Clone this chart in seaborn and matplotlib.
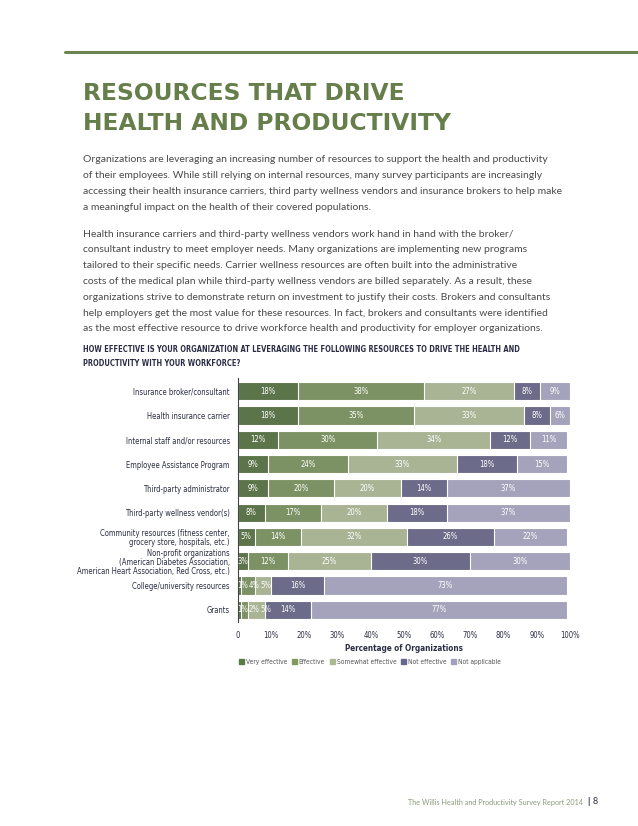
import matplotlib
matplotlib.use("Agg")
import matplotlib.pyplot as plt
import matplotlib.patches as mpatches
from matplotlib import font_manager as fm
import seaborn as sns
import pandas as pd

# --- data ------------------------------------------------------------------
resources = [
    "Insurance broker/consultant",
    "Health insurance carrier",
    "Internal staff and/or resources",
    "Employee Assistance Program",
    "Third-party administrator",
    "Third-party wellness vendor(s)",
    "Community resources (fitness center,\ngrocery store, hospitals, etc.)",
    "Non-profit organizations\n(American Diabetes Association,\nAmerican Heart Association, Red Cross, etc.)",
    "College/university resources",
    "Grants",
]
very_effective = [18, 18, 12, 9, 9, 8, 5, 3, 1, 1]
effective = [38, 35, 30, 24, 20, 17, 14, 12, 4, 2]
somewhat_effective = [27, 33, 34, 33, 20, 20, 32, 25, 5, 5]
not_effective = [8, 8, 12, 18, 14, 18, 26, 30, 16, 14]
not_applicable = [9, 6, 11, 15, 37, 37, 22, 30, 73, 77]

levels = ["Very effective", "Effective", "Somewhat effective",
          "Not effective", "Not applicable"]
colors = ["#5b7b43", "#7e9a5c", "#aab990", "#67678f", "#a19fc0"]
xticks = [0, 10, 20, 30, 40, 50, 60, 70, 80, 90, 100]
xticklabels = ["0"] + [f"{t}%" for t in xticks[1:]]

df = pd.DataFrame({"resource": resources,
                   levels[0]: very_effective,
                   levels[1]: effective,
                   levels[2]: somewhat_effective,
                   levels[3]: not_effective,
                   levels[4]: not_applicable})
cum = df[levels].cumsum(axis=1)

sns.set_theme(style="white")
plt.rcParams["font.family"] = ["Lato", "DejaVu Sans"]

# pick the narrowest font we have for the chart labels
installed = {f.name for f in fm.fontManager.ttflist}
dv_cond = [f for f in fm.fontManager.ttflist
           if f.name == "DejaVu Sans" and "condensed" in str(f.stretch)]
if "Liberation Sans Narrow" in installed:
    narrow = dict(family="Liberation Sans Narrow")
    k = 1.0
elif dv_cond:
    narrow = dict(family="DejaVu Sans", stretch="condensed")
    k = 0.92
else:
    narrow = dict(family="Roboto")
    k = 0.86

navy = "#2b2d45"
green_title = "#667e4a"
body = "#4a4a4a"

fig = plt.figure(figsize=(6.38, 8.26), dpi=100)

# header rule + title + body text
fig.add_artist(plt.Line2D([65 / 638, 1.0], [1 - 52 / 826] * 2,
                          color="#6d8450", lw=2.2))
for y, line in [(94, "RESOURCES THAT DRIVE"), (123, "HEALTH AND PRODUCTIVITY")]:
    fig.text(83 / 638, 1 - y / 826, line, color=green_title, fontsize=16.8,
             fontweight="bold", va="center", family="DejaVu Sans")

para1 = [
    "Organizations are leveraging an increasing number of resources to support the health and productivity",
    "of their employees. While still relying on internal resources, many survey participants are increasingly",
    "accessing their health insurance carriers, third party wellness vendors and insurance brokers to help make",
    "a meaningful impact on the health of their covered populations.",
]
para2 = [
    "Health insurance carriers and third-party wellness vendors work hand in hand with the broker/",
    "consultant industry to meet employer needs. Many organizations are implementing new programs",
    "tailored to their specific needs. Carrier wellness resources are often built into the administrative",
    "costs of the medical plan while third-party wellness vendors are billed separately. As a result, these",
    "organizations strive to demonstrate return on investment to justify their costs. Brokers and consultants",
    "help employers get the most value for these resources. In fact, brokers and consultants were identified",
    "as the most effective resource to drive workforce health and productivity for employer organizations.",
]
for i, line in enumerate(para1):
    fig.text(83 / 638, 1 - (160 + 16 * i) / 826, line, color=body,
             fontsize=7.45, va="center")
for i, line in enumerate(para2):
    fig.text(83 / 638, 1 - (234 + 15.8 * i) / 826, line, color=body,
             fontsize=7.45, va="center")

question = ["HOW EFFECTIVE IS YOUR ORGANIZATION AT LEVERAGING THE FOLLOWING RESOURCES TO DRIVE THE HEALTH AND",
            "PRODUCTIVITY WITH YOUR WORKFORCE?"]
qsize = 6.4 if k == 1.0 else 5.45
for i, line in enumerate(question):
    fig.text(83 / 638, 1 - (349 + 14 * i) / 826, line, color=navy,
             fontsize=qsize, fontweight="bold", va="center", **narrow)

# chart
ax = fig.add_axes([238 / 638, 1 - 622 / 826, 332 / 638, 244 / 826])
for lvl, col in reversed(list(zip(levels, colors))):
    sns.barplot(x=cum[lvl], y=df["resource"], color=col, orient="h",
                width=0.75, edgecolor="white", linewidth=0.8, ax=ax)

# segment labels, nudged apart where segments are too thin
for i in range(len(resources)):
    start = 0
    last = -10
    for lvl in levels:
        v = df.loc[i, lvl]
        xpos = max(start + v / 2, last + 3.5, 1.3)
        ax.text(xpos, i, f"{v}%", ha="center", va="center",
                color="white", fontsize=6 * k, **narrow)
        last = xpos
        start += v

ax.set_xlim(0, 100)
ax.set_ylim(9.5, -0.54)
ax.set_xticks(xticks)
ax.set_xticklabels(xticklabels, fontsize=6 * k, color=navy, **narrow)
ax.tick_params(axis="x", length=5, width=1, color=navy, pad=1.5, direction="out")
ax.tick_params(axis="y", length=0, pad=6)
for lab in ax.get_yticklabels():
    lab.set_fontsize(6.2 * k if k == 1.0 else 5.5)
    lab.set_color(navy)
    lab.set_fontfamily(narrow["family"])
    if "stretch" in narrow:
        lab.set_fontstretch(narrow["stretch"])
    lab.set_linespacing(1.0)
ax.set_ylabel("")
ax.set_xlabel("Percentage of Organizations", fontsize=6.4 * k, color=navy,
              fontweight="bold", labelpad=3, **narrow)
for s in ["top", "right", "bottom"]:
    ax.spines[s].set_visible(False)
ax.spines["left"].set_color("#444444")
ax.spines["left"].set_linewidth(0.8)

handles = [mpatches.Patch(color=c, label=l) for l, c in zip(levels, colors)]
leg_prop = {"size": 5.2 * k, **narrow}
leg = fig.legend(handles=handles, loc="center", ncol=5,
                 bbox_to_anchor=(370 / 638, 1 - 662 / 826), frameon=False,
                 handlelength=0.75, handleheight=0.75, handletextpad=0.3,
                 columnspacing=0.7, prop=leg_prop)
for t in leg.get_texts():
    t.set_color("#555555")

# footer
fig.text(583 / 638, 1 - 802 / 826,
         "The Willis Health and Productivity Survey Report 2014",
         color="#8a9a78", fontsize=5.2, ha="right", va="center")
fig.text(588 / 638, 1 - 802 / 826, "|", color=navy, fontsize=6.5,
         ha="center", va="center", fontweight="bold")
fig.text(595 / 638, 1 - 802 / 826, "8", color=navy, fontsize=6.5,
         ha="center", va="center")

fig.savefig("out.png", dpi=100)
